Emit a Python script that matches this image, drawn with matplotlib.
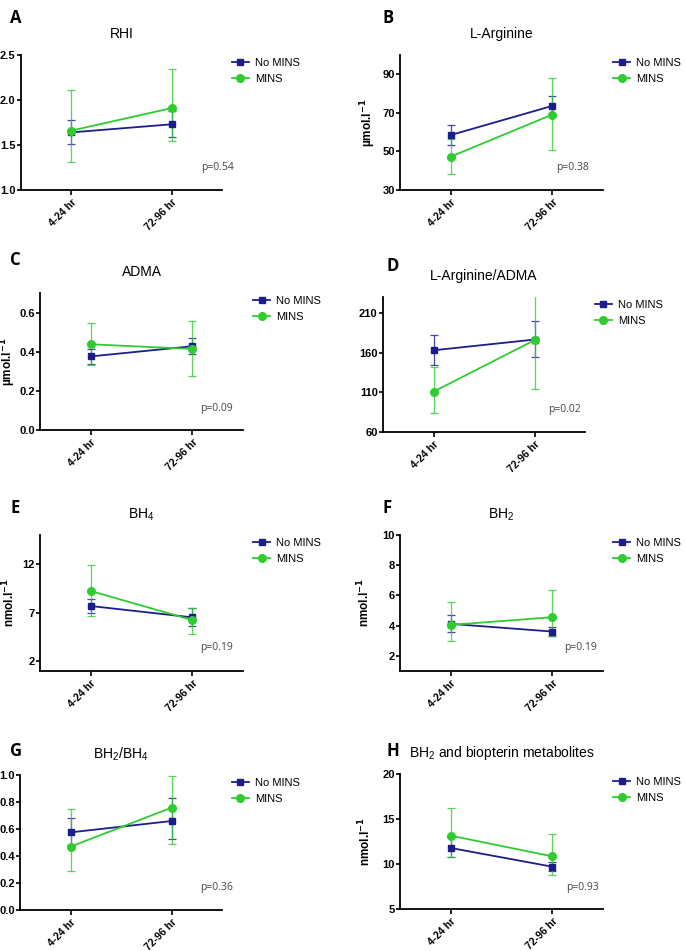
import matplotlib
matplotlib.use("Agg")
import matplotlib.pyplot as plt
from matplotlib.lines import Line2D

plt.rcParams['font.family'] = ['Liberation Sans', 'DejaVu Sans']
plt.rcParams['mathtext.default'] = 'regular'

times = ["4-24 hr", "72-96 hr"]
groups = ["No MINS", "MINS"]

# mean, lower and upper error bar ends
rhi_no = [1.64, 1.73]; rhi_no_lo = [1.51, 1.59]; rhi_no_hi = [1.78, 1.88]
rhi_mi = [1.66, 1.91]; rhi_mi_lo = [1.31, 1.55]; rhi_mi_hi = [2.11, 2.34]

arg_no = [58.5, 73.6]; arg_no_lo = [53.5, 68.3]; arg_no_hi = [63.7, 78.9]
arg_mi = [47.3, 69.1]; arg_mi_lo = [38.4, 50.6]; arg_mi_hi = [56.3, 87.9]

adma_no = [0.376, 0.428]; adma_no_lo = [0.336, 0.388]; adma_no_hi = [0.414, 0.469]
adma_mi = [0.438, 0.414]; adma_mi_lo = [0.331, 0.274]; adma_mi_hi = [0.545, 0.555]

ratio_no = [162.9, 176.4]; ratio_no_lo = [144.5, 155.0]; ratio_no_hi = [182.3, 200.3]
ratio_mi = [110.8, 175.6]; ratio_mi_lo = [83.9, 114.0]; ratio_mi_hi = [142.4, 236.0]

bh4_no = [7.69, 6.52]; bh4_no_lo = [7.0, 5.62]; bh4_no_hi = [8.41, 7.45]
bh4_mi = [9.24, 6.24]; bh4_mi_lo = [6.66, 4.86]; bh4_mi_hi = [11.9, 7.52]

bh2_no = [4.12, 3.61]; bh2_no_lo = [3.61, 3.33]; bh2_no_hi = [4.69, 3.94]
bh2_mi = [4.05, 4.56]; bh2_mi_lo = [2.97, 3.30]; bh2_mi_hi = [5.59, 6.34]

bhr_no = [0.575, 0.659]; bhr_no_lo = [0.481, 0.523]; bhr_no_hi = [0.679, 0.827]
bhr_mi = [0.469, 0.758]; bhr_mi_lo = [0.288, 0.486]; bhr_mi_hi = [0.746, 0.995]

bio_no = [11.78, 9.70]; bio_no_lo = [10.74, 9.19]; bio_no_hi = [13.0, 10.2]
bio_mi = [13.15, 10.85]; bio_mi_lo = [10.74, 8.74]; bio_mi_hi = [16.19, 13.3]

p_values = ["p=0.54", "p=0.38", "p=0.09", "p=0.02", "p=0.19", "p=0.19", "p=0.36", "p=0.93"]
letters = ["A", "B", "C", "D", "E", "F", "G", "H"]
titles = ["RHI", "L-Arginine", "ADMA", "L-Arginine/ADMA", "BH$_4$", "BH$_2$",
          "BH$_2$/BH$_4$", "BH$_2$ and biopterin metabolites"]
umol = "µmol.l$^{\\mathbf{-1}}$"
nmol = "nmol.l$^{\\mathbf{-1}}$"
ylabels = [None, umol, umol, None, nmol, nmol, None, nmol]

yticks = [[1.0, 1.5, 2.0, 2.5], [30, 50, 70, 90], [0.0, 0.2, 0.4, 0.6],
          [60, 110, 160, 210], [2, 7, 12], [2, 4, 6, 8, 10],
          [0.0, 0.2, 0.4, 0.6, 0.8, 1.0], [5, 10, 15, 20]]
ylims = [(1.0, 2.5), (30, 100), (0, 0.7), (60, 230), (1, 15), (1, 10), (0, 1.0), (5, 20)]
yfmt = ["{:.1f}", "{:.0f}", "{:.1f}", "{:.0f}", "{:.0f}", "{:.0f}", "{:.1f}", "{:.0f}"]

series = [
    (rhi_no, rhi_no_lo, rhi_no_hi, rhi_mi, rhi_mi_lo, rhi_mi_hi),
    (arg_no, arg_no_lo, arg_no_hi, arg_mi, arg_mi_lo, arg_mi_hi),
    (adma_no, adma_no_lo, adma_no_hi, adma_mi, adma_mi_lo, adma_mi_hi),
    (ratio_no, ratio_no_lo, ratio_no_hi, ratio_mi, ratio_mi_lo, ratio_mi_hi),
    (bh4_no, bh4_no_lo, bh4_no_hi, bh4_mi, bh4_mi_lo, bh4_mi_hi),
    (bh2_no, bh2_no_lo, bh2_no_hi, bh2_mi, bh2_mi_lo, bh2_mi_hi),
    (bhr_no, bhr_no_lo, bhr_no_hi, bhr_mi, bhr_mi_lo, bhr_mi_hi),
    (bio_no, bio_no_lo, bio_no_hi, bio_mi, bio_mi_lo, bio_mi_hi),
]

# axes boxes in pixels: left, top, right, bottom
boxes = [(21, 55, 222, 190), (400, 55, 603, 190), (40, 293, 243, 430), (383, 297, 585, 432),
         (40, 535, 243, 671), (400, 535, 603, 671), (20, 775, 222, 910), (400, 774, 603, 909)]
letter_pos = [(10, 18), (383, 18), (10, 260), (386, 266), (10, 508), (383, 508), (10, 751), (387, 751)]
p_pos = [(0.98, 0.17), (0.85, 0.17), (0.87, 0.16), (0.90, 0.17),
         (0.87, 0.17), (0.89, 0.17), (0.975, 0.17), (0.90, 0.16)]
ylabel_x = [None, -0.108, -0.108, None, -0.113, -0.138, None, -0.133]

W, H = 685, 951
navy = "#1c1c8c"
green = "#2fcc2f"

fig = plt.figure(figsize=(W / 100, H / 100), dpi=100)

handles = [Line2D([], [], color=navy, marker="s", markersize=5, linewidth=1.3),
           Line2D([], [], color=green, marker="o", markersize=5.5, linewidth=1.3)]

for i in range(8):
    l, t, r, b = boxes[i]
    ax = fig.add_axes([l / W, 1 - b / H, (r - l) / W, (b - t) / H])
    no, no_lo, no_hi, mi, mi_lo, mi_hi = series[i]
    x = list(range(len(times)))
    for vals, lo, hi, col, mk, ms in [(no, no_lo, no_hi, navy, "s", 5),
                                      (mi, mi_lo, mi_hi, green, "o", 5.5)]:
        err = [[v - a for v, a in zip(vals, lo)], [c - v for v, c in zip(vals, hi)]]
        eb = ax.errorbar(x, vals, yerr=err, color=col, marker=mk, markersize=ms,
                         linewidth=1.3, elinewidth=0.9, capsize=3, capthick=0.9)
        for art in eb[1] + eb[2]:
            art.set_alpha(0.8)
    ax.set_xlim(-0.5, 1.5)
    ax.set_ylim(*ylims[i])
    ax.set_xticks(x)
    ax.set_xticklabels(times, rotation=45, ha="right", rotation_mode="anchor",
                       fontsize=7.5, fontweight="bold")
    ax.set_yticks(yticks[i])
    ax.set_yticklabels([yfmt[i].format(v) for v in yticks[i]], fontsize=8, fontweight="bold")
    ax.tick_params(axis="y", length=3, width=1.2, pad=0.8)
    ax.tick_params(axis="x", length=3.5, width=1.2, pad=2)
    for s in ["top", "right"]:
        ax.spines[s].set_visible(False)
    for s in ["left", "bottom"]:
        ax.spines[s].set_linewidth(1.3)
    ax.set_title(titles[i], fontsize=10, pad=12)
    if ylabels[i]:
        ax.set_ylabel(ylabels[i], fontsize=8.5, fontweight="bold")
        ax.yaxis.set_label_coords(ylabel_x[i], 0.5)
    ax.text(p_pos[i][0], p_pos[i][1], p_values[i], transform=ax.transAxes,
            ha="center", va="center", fontsize=7.5, color="#444444", family="Open Sans")
    ax.legend(handles, groups, loc="upper left", bbox_to_anchor=(1.02, 1.02), frameon=False,
              fontsize=8, handlelength=1.6, handletextpad=0.5, labelspacing=0.55,
              borderaxespad=0.1)
    fig.text(letter_pos[i][0] / W, 1 - letter_pos[i][1] / H, letters[i],
             fontsize=12, fontweight="bold", family="Open Sans", va="center")

fig.savefig("out.png", dpi=100)
